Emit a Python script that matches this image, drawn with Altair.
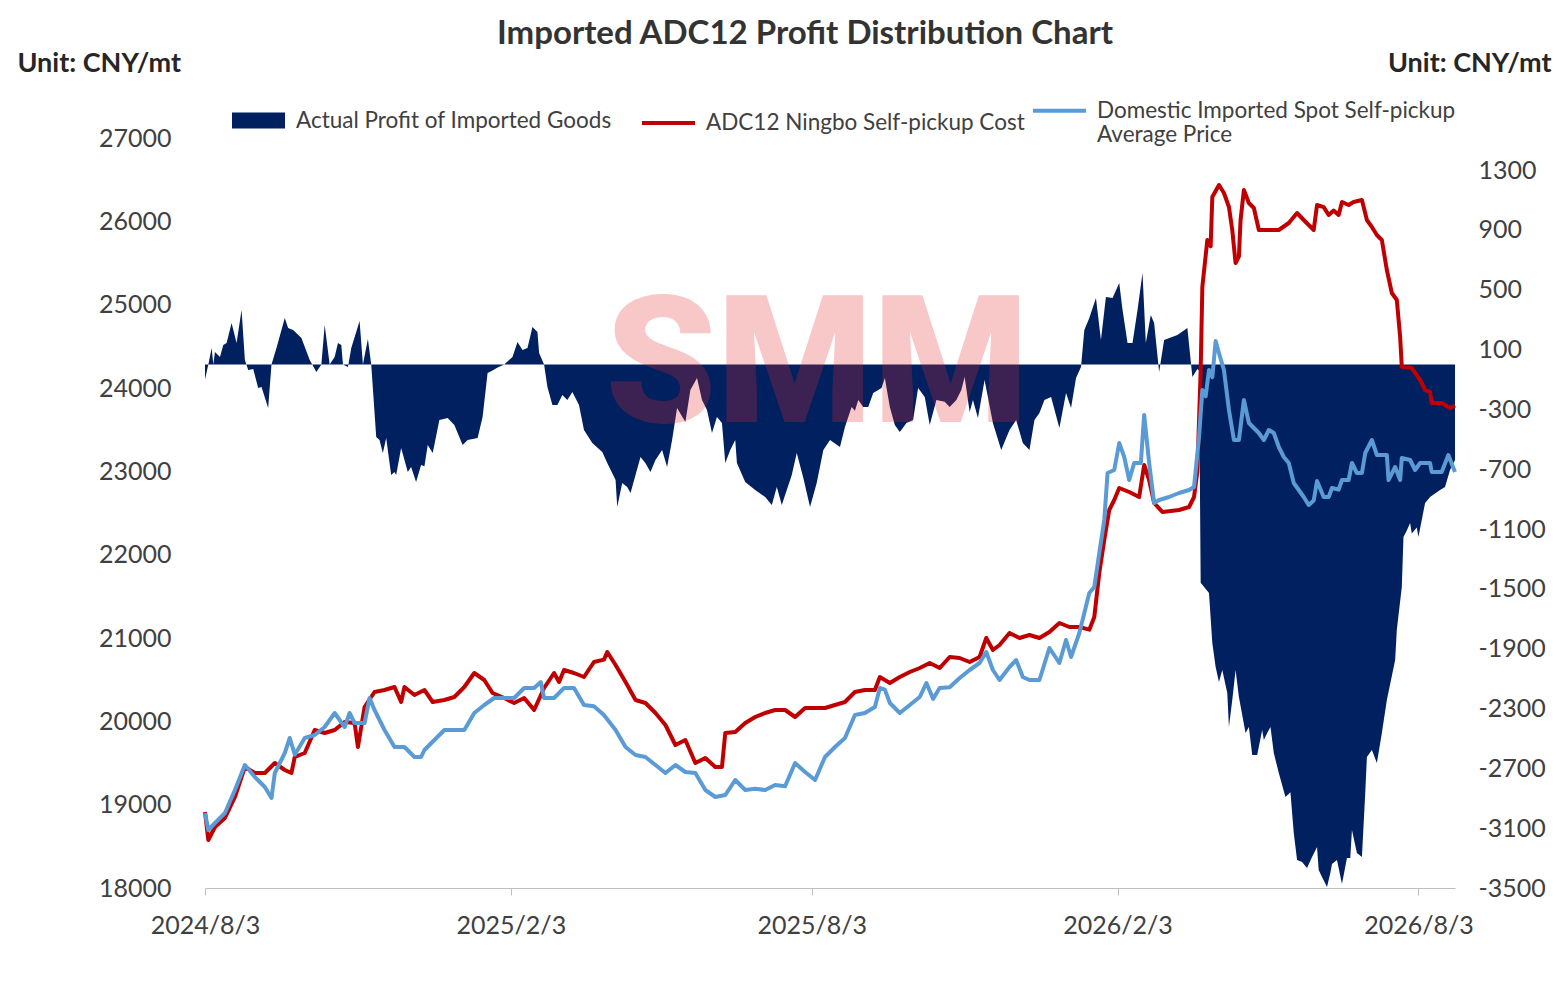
import altair as alt
import pandas as pd

START = pd.Timestamp("2024-08-03")

# days since 2024/8/3
profit_days = [0, 2, 4, 5, 6, 9, 11, 13, 16, 19, 22, 24, 26, 29, 32, 34, 38, 40, 43, 48,
               50, 53, 58, 63, 67, 70, 72, 75, 78, 80, 82, 83, 86, 88, 93, 95, 98, 100, 103, 105,
               107, 109, 112, 114, 115, 118, 122, 124, 127, 130, 132, 134, 137, 141, 146, 150, 155, 158, 164, 167,
               170, 173, 176, 180, 185, 188, 191, 194, 197, 200, 201, 204, 206, 209, 212, 215, 218, 221, 225, 228,
               233, 239, 242, 247, 248, 251, 254, 256, 259, 262, 265, 268, 271, 275, 278, 281, 284, 289, 292, 296,
               299, 302, 305, 308, 311, 313, 316, 319, 320, 325, 331, 337, 341, 344, 347, 350, 353, 356, 360, 364,
               368, 372, 376, 382, 385, 389, 391, 393, 396, 399, 402, 407, 409, 412, 415, 418, 422, 426, 429, 433,
               436, 440, 445, 448, 452, 455, 457, 460, 462, 465, 469, 474, 479, 484, 488, 492, 496, 499, 502, 505,
               509, 514, 518, 521, 524, 527, 529, 532, 536, 539, 542, 546, 550, 552, 555, 558, 561, 564, 566, 569,
               571, 574, 577, 585, 591, 594, 597, 598, 599, 604, 606, 608, 610, 612, 615, 616, 618, 620, 622, 626,
               628, 630, 633, 636, 637, 639, 641, 643, 646, 650, 653, 655, 657, 660, 663, 666, 669, 670, 672, 675,
               677, 678, 681, 684, 687, 689, 690, 693, 696, 698, 699, 702, 705, 708, 711, 716, 717, 720, 721, 723,
               725, 726, 729, 730, 734, 737, 743, 746, 749, 752]
profit_vals = [-100, 0, 110, 0, 83, 50, 130, 144, 277, 144, 364, 30, -37, -30, -157, -150, -291, 0, 110, 311,
               244, 230, 177, 30, -50, 0, 264, 0, 50, 144, 130, 0, -17, 110, 290, 0, 170, 0, -485, -505,
               -592, -492, -739, -719, -739, -558, -719, -685, -786, -672, -680, -538, -592, -371, -358, -404, -538, -505, -492, -351,
               -57, -40, -20, 0, 50, 150, 97, 110, 251, 217, 77, 0, -150, -271, -271, -204, -237, -184, -271, -438,
               -525, -585, -659, -772, -953, -792, -820, -859, -739, -618, -660, -719, -638, -571, -685, -505, -291, -384, -170, -90,
               -237, -304, -458, -351, -391, -659, -571, -505, -659, -786, -839, -886, -940, -819, -940, -839, -739, -592, -760, -953,
               -792, -571, -505, -552, -418, -284, -310, -237, -284, -284, -191, -157, -90, -284, -404, -451, -391, -371, -157, -217,
               -404, -237, -250, -284, -237, -170, -84, -318, -237, -358, -104, -391, -571, -438, -371, -525, -571, -371, -324, -237,
               -217, -425, -191, -291, -90, -17, 230, 311, 445, 164, 451, 445, 545, 364, 144, 144, 364, 612, 144, 331,
               277, -50, 164, 197, 244, -84, -30, -40, -1460, -1528, -1862, -2022, -2122, -2042, -2196, -2423, -2243, -2042, -2223, -2464,
               -2423, -2611, -2611, -2443, -2510, -2464, -2423, -2598, -2732, -2892, -2860, -3133, -3313, -3326, -3366, -3293, -3226, -3380, -3426, -3493,
               -3400, -3340, -3313, -3473, -3300, -3300, -3112, -3266, -3293, -2865, -2624, -2577, -2665, -2464, -2243, -1975, -1774, -1487, -1153, -1110,
               -1060, -1130, -1090, -1153, -926, -886, -839, -819, -705, -638]

cost_days = [0, 2, 6, 12, 18, 24, 30, 36, 42, 48, 52, 54, 60, 66, 72, 78, 84, 90, 92, 96,
             102, 108, 114, 118, 120, 126, 132, 137, 144, 150, 156, 162, 168, 173, 180, 186, 192, 198, 204, 210,
             213, 216, 222, 228, 234, 240, 242, 247, 253, 259, 265, 271, 277, 283, 289, 295, 301, 307, 311, 313,
             319, 325, 331, 337, 343, 349, 355, 361, 367, 373, 379, 385, 391, 397, 403, 406, 412, 418, 424, 430,
             436, 442, 448, 454, 460, 466, 470, 474, 478, 484, 490, 496, 502, 508, 514, 520, 526, 532, 535, 538,
             541, 544, 547, 550, 556, 562, 565, 568, 571, 576, 586, 592, 595, 597, 599, 600, 603, 605, 606, 610,
             613, 616, 618, 620, 622, 623, 625, 628, 631, 634, 640, 646, 652, 657, 661, 667, 669, 673, 676, 679,
             682, 684, 688, 691, 696, 699, 702, 705, 708, 711, 714, 717, 719, 720, 726, 731, 734, 737, 738, 744,
             749, 752]
cost_vals = [18912, 18576, 18732, 18840, 19092, 19452, 19380, 19380, 19500, 19416, 19380, 19572, 19620, 19896, 19860, 19896, 19992, 19980, 19692, 20172,
             20352, 20376, 20412, 20232, 20412, 20316, 20376, 20232, 20256, 20292, 20412, 20580, 20496, 20340, 20280, 20220, 20280, 20136, 20400, 20580,
             20472, 20616, 20580, 20532, 20712, 20740, 20832, 20676, 20472, 20256, 20220, 20100, 19956, 19716, 19776, 19500, 19560, 19452, 19452, 19860,
             19872, 19980, 20052, 20100, 20136, 20136, 20052, 20160, 20160, 20160, 20196, 20232, 20352, 20376, 20376, 20532, 20460, 20532, 20592, 20640,
             20700, 20640, 20772, 20760, 20712, 20772, 21000, 20856, 20916, 21060, 21000, 21036, 21000, 21072, 21180, 21132, 21132, 21100, 21252, 21780,
             22176, 22536, 22656, 22800, 22752, 22692, 23076, 22896, 22620, 22512, 22536, 22572, 22692, 23000, 24216, 25212, 25776, 25700, 26292, 26436,
             26340, 26172, 25896, 25500, 25580, 26016, 26376, 26220, 26160, 25896, 25896, 25896, 25980, 26100, 26016, 25896, 26196, 26170, 26076, 26130,
             26076, 26232, 26196, 26232, 26256, 26016, 25932, 25836, 25776, 25416, 25140, 25056, 24612, 24252, 24240, 24096, 23976, 23950, 23820, 23820,
             23760, 23790]

spot_days = [0, 2, 6, 12, 18, 24, 30, 36, 40, 42, 48, 51, 54, 60, 66, 72, 78, 84, 87, 90,
             96, 99, 102, 108, 114, 120, 126, 130, 132, 138, 144, 156, 162, 168, 174, 186, 192, 198, 202, 204,
             210, 216, 222, 228, 234, 240, 247, 253, 259, 265, 271, 277, 283, 289, 295, 301, 307, 313, 319, 325,
             331, 337, 343, 349, 355, 361, 367, 373, 379, 385, 391, 397, 403, 406, 409, 412, 418, 424, 430, 434,
             438, 442, 448, 454, 460, 466, 470, 474, 478, 484, 488, 492, 496, 502, 508, 514, 518, 521, 526, 532,
             535, 538, 541, 543, 547, 550, 553, 556, 559, 563, 565, 568, 571, 574, 580, 586, 592, 595, 598, 600,
             602, 604, 606, 608, 610, 613, 616, 619, 622, 625, 628, 634, 637, 640, 643, 646, 649, 652, 655, 658,
             661, 664, 667, 669, 673, 676, 678, 682, 684, 688, 690, 693, 696, 698, 702, 705, 711, 712, 716, 719,
             720, 725, 728, 731, 737, 738, 744, 748, 752]
spot_vals = [18900, 18696, 18780, 18900, 19176, 19476, 19332, 19212, 19080, 19380, 19620, 19800, 19600, 19800, 19836, 19932, 20100, 19932, 20100, 19980,
             19980, 20280, 20136, 19896, 19692, 19692, 19572, 19572, 19656, 19776, 19896, 19896, 20100, 20196, 20280, 20280, 20400, 20400, 20472, 20280,
             20280, 20400, 20400, 20196, 20180, 20076, 19896, 19692, 19596, 19572, 19476, 19380, 19476, 19392, 19380, 19176, 19092, 19116, 19296, 19176,
             19190, 19176, 19236, 19220, 19500, 19392, 19296, 19572, 19692, 19800, 20076, 20100, 20172, 20400, 20380, 20220, 20100, 20196, 20292, 20460,
             20270, 20400, 20410, 20520, 20616, 20700, 20832, 20616, 20496, 20652, 20736, 20532, 20496, 20496, 20880, 20700, 20976, 20772, 21060, 21540,
             21612, 22020, 22416, 22980, 23016, 23340, 23172, 22896, 23100, 23100, 23676, 23100, 22620, 22656, 22692, 22740, 22776, 22812, 23412, 23976,
             23900, 24216, 24130, 24564, 24420, 24216, 23736, 23376, 23376, 23856, 23580, 23460, 23376, 23496, 23460, 23292, 23172, 23100, 22860, 22776,
             22692, 22596, 22650, 22884, 22692, 22692, 22800, 22780, 22896, 22896, 23100, 22980, 22980, 23220, 23376, 23196, 23196, 22896, 23052, 22896,
             23160, 23136, 23016, 23100, 23100, 22992, 22992, 23196, 22992]

AREA_NAME = "Actual Profit of Imported Goods"
COST_NAME = "ADC12 Ningbo Self-pickup Cost"
SPOT_NAME = "Domestic Imported Spot Self-pickup Average Price"

left_ticks = list(range(18000, 27001, 1000))
right_ticks = list(range(-3500, 1301, 400))
date_ticks = [alt.DateTime(year=2024, month=8, date=3), alt.DateTime(year=2025, month=2, date=3),
              alt.DateTime(year=2025, month=8, date=3), alt.DateTime(year=2026, month=2, date=3),
              alt.DateTime(year=2026, month=8, date=3)]

profit = pd.DataFrame({
    "date": START + pd.to_timedelta(profit_days, unit="D"),
    "profit": profit_vals,
    "name": AREA_NAME,
})
prices = pd.concat([
    pd.DataFrame({"date": START + pd.to_timedelta(cost_days, unit="D"), "price": cost_vals, "series": COST_NAME}),
    pd.DataFrame({"date": START + pd.to_timedelta(spot_days, unit="D"), "price": spot_vals, "series": SPOT_NAME}),
])

GREY = "#404040"

x_enc = alt.X(
    "date:T",
    scale=alt.Scale(domain=[alt.DateTime(year=2024, month=8, date=3), alt.DateTime(year=2026, month=8, date=25)]),
    axis=alt.Axis(values=date_ticks, format="%Y/%-m/%-d", title=None, grid=False, labelFontSize=25,
                  labelColor=GREY, tickSize=7, tickColor="#BFBFBF", domainColor="#BFBFBF",
                  labelPadding=18, labelFlush=False, labelOverlap=False),
)

area = alt.Chart(profit).mark_area(color="#002060", interpolate="linear").encode(
    x=x_enc,
    y=alt.Y("profit:Q",
            scale=alt.Scale(domain=[-3500, 1514], nice=False, zero=False),
            axis=alt.Axis(orient="right", values=right_ticks, labelExpr="toString(datum.value)",
                          grid=False, domain=False, ticks=False, tickSize=0,
                          labelFontSize=25, labelColor=GREY, labelPadding=23, labelAlign="left",
                          title="Unit: CNY/mt", titleAngle=0, titleX=96, titleY=-75, titleAlign="right",
                          titleBaseline="middle", titleFontSize=27, titleFontWeight="bold", titleColor="#262626")),
    y2=alt.datum(0),
    fill=alt.Fill("name:N", scale=alt.Scale(domain=[AREA_NAME], range=["#002060"]),
                  legend=alt.Legend(title=None, orient="none", legendX=27, legendY=-44,
                                    symbolType="M-1,-0.3H1V0.3H-1Z", symbolSize=2809, symbolStrokeWidth=0,
                                    labelFontSize=22.5, labelColor=GREY, labelOffset=11, labelLimit=600)),
)

lines = alt.Chart(prices).mark_line(strokeWidth=4, strokeJoin="round").encode(
    x=x_enc,
    y=alt.Y("price:Q",
            scale=alt.Scale(domain=[18000, 27000], nice=False, zero=False),
            axis=alt.Axis(orient="left", values=left_ticks, format="d", grid=False, domain=False, ticks=False,
                          tickSize=0, labelFontSize=25, labelColor=GREY, labelPadding=34,
                          title="Unit: CNY/mt", titleAngle=0, titleX=-188, titleY=-75, titleAlign="left",
                          titleBaseline="middle", titleFontSize=27, titleFontWeight="bold", titleColor="#262626")),
    stroke=alt.Stroke("series:N",
                      scale=alt.Scale(domain=[COST_NAME, SPOT_NAME], range=["#C00000", "#5B9BD5"]),
                      legend=alt.Legend(title=None, orient="none", legendX=435, legendY=-56, direction="horizontal",
                                        symbolType="stroke", symbolSize=2809, symbolStrokeWidth=4,
                                        labelFontSize=22.5, labelColor=GREY, labelOffset=9, columnPadding=0,
                                        labelLimit=600,
                                        labelExpr="datum.label == '" + SPOT_NAME + "' ? ['Domestic Imported Spot Self-pickup', 'Average Price'] : datum.label")),
)

logo = alt.Chart(pd.DataFrame({"logo": ["SMM"]})).mark_text(
    font="Roboto", fontSize=178, fontWeight=900, color="#E62B2B", opacity=0.26,
    align="center", baseline="middle",
).encode(text="logo:N", x=alt.value(612), y=alt.value(231))

chart = alt.layer(area, lines, logo).resolve_scale(y="independent").properties(
    width=1250,
    height=750,
    autosize=alt.AutoSizeParams(type="none"),
    padding={"left": 197, "top": 130, "right": 103, "bottom": 100},
    title=alt.TitleParams("Imported ADC12 Profit Distribution Chart", fontSize=33, fontWeight="bold",
                          color="#333333", anchor="middle", frame="group", dx=-25, offset=-2),
).configure(font="Lato", background="white").configure_view(stroke="transparent")

chart.save("out.html", embed_options={"renderer": "svg", "actions": False})
